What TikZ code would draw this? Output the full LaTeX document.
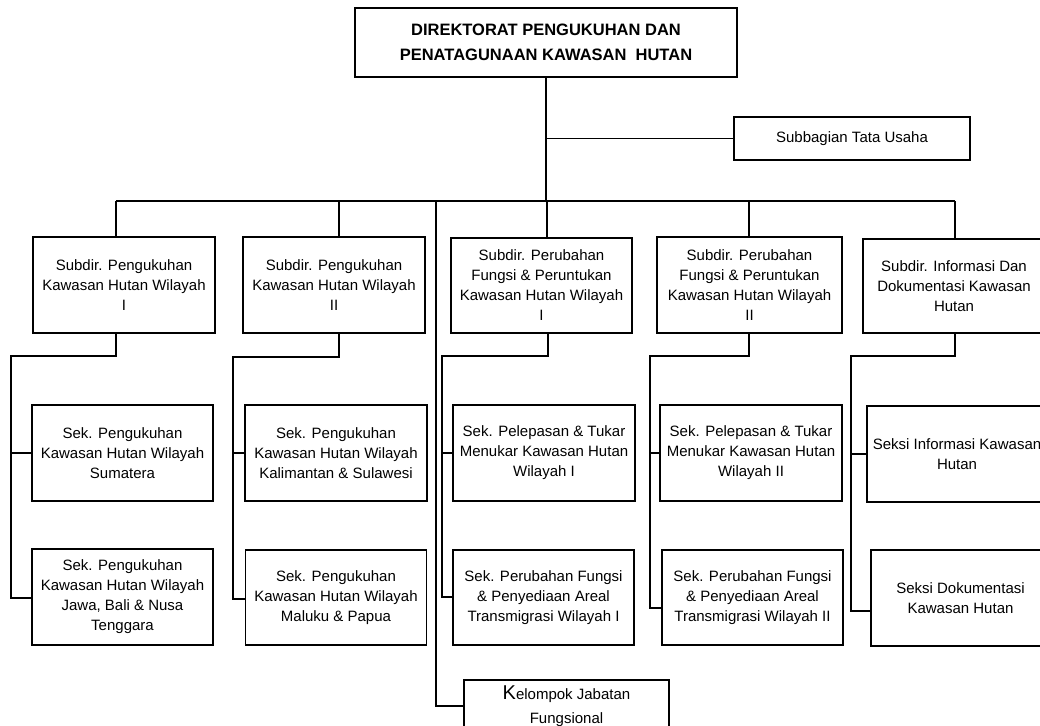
\documentclass[tikz,border=0pt]{standalone}
\usepackage{fontspec}
\setmainfont{Liberation Sans}
\usetikzlibrary{positioning}

\begin{document}
\begin{tikzpicture}[
  x=1pt, y=-1pt,
  every node/.style={font=\fontsize{15}{20}\selectfont},
  unit/.style={draw=black, line width=1.9pt, align=center, inner sep=2pt},
  sz/.style 2 args={minimum width=#1pt, minimum height=#2pt},
  ln/.style={line width=1.9pt, draw=black}
]
\useasboundingbox (0,0) rectangle (1040,725);

% Head of the directorate
\node[unit, sz={382}{69}, font=\bfseries\fontsize{16.5}{25}\selectfont] (dir) at (546,42.5)
  {DIREKTORAT PENGUKUHAN DAN\\PENATAGUNAAN KAWASAN\ \ HUTAN};
\node[unit, sz={236}{43}] (tu) at (852,138.5) {Subbagian Tata Usaha};

% Subdirectorates
\node[unit, sz={182}{96}] (sd1) at (124,285) {Subdir. Pengukuhan\\Kawasan Hutan Wilayah\\I};
\node[unit, sz={182}{96}] (sd2) at (334,285) {Subdir. Pengukuhan\\Kawasan Hutan Wilayah\\II};
\node[unit, sz={181}{95}] (sd3) at (541.5,285.5) {Subdir. Perubahan\\Fungsi \& Peruntukan\\Kawasan Hutan Wilayah\\I};
\node[unit, sz={185}{96}] (sd4) at (749.5,285) {Subdir. Perubahan\\Fungsi \& Peruntukan\\Kawasan Hutan Wilayah\\II};
\node[unit, sz={182}{94}] (sd5) at (954,286) {Subdir. Informasi Dan\\Dokumentasi Kawasan\\Hutan};

% Sections
\node[unit, sz={181}{96}] (s1a) at (122.5,453) {Sek. Pengukuhan\\Kawasan Hutan Wilayah\\Sumatera};
\node[unit, sz={181}{96}] (s1b) at (122.5,597) {Sek. Pengukuhan\\Kawasan Hutan Wilayah\\Jawa, Bali \& Nusa\\Tenggara};
\node[unit, sz={182}{96}] (s2a) at (336,453) {Sek. Pengukuhan\\Kawasan Hutan Wilayah\\Kalimantan \& Sulawesi};
\node[unit, sz={181}{95}] (s2b) at (336,597.5) {Sek. Pengukuhan\\Kawasan Hutan Wilayah\\Maluku \& Papua};
\node[unit, sz={182}{96}] (s3a) at (544,453) {Sek. Pelepasan \& Tukar\\Menukar Kawasan Hutan\\Wilayah I};
\node[unit, sz={181}{95}] (s3b) at (543.5,597.5) {Sek. Perubahan Fungsi\\\& Penyediaan Areal\\Transmigrasi Wilayah I};
\node[unit, sz={182}{96}] (s4a) at (751,453) {Sek. Pelepasan \& Tukar\\Menukar Kawasan Hutan\\Wilayah II};
\node[unit, sz={181}{95}] (s4b) at (752.5,597.5) {Sek. Perubahan Fungsi\\\& Penyediaan Areal\\Transmigrasi Wilayah II};
\node[unit, sz={180}{96}] (s5a) at (957,454) {Seksi Informasi Kawasan\\Hutan};
\node[unit, sz={179}{96}] (s5b) at (960.5,598) {Seksi Dokumentasi\\Kawasan Hutan};

% Functional group
\node[unit, sz={205}{52}, font=\fontsize{15}{24}\selectfont] (kel) at (566.5,706)
  {{\fontsize{20}{24}\selectfont K}elompok Jabatan\\Fungsional};

% Main bus
\coordinate (b1) at (116,201);
\coordinate (b2) at (339,201);
\coordinate (b3) at (547,201);
\coordinate (b4) at (749,201);
\coordinate (b5) at (955,201);
\coordinate (bk) at (436,201);
\draw[ln] (dir.south) -- (dir.south |- b3);
\draw[ln] (dir.south |- tu.west) -- (tu.west);
\draw[ln] (b1) -- (b5);
\draw[ln] (b1) -- (b1 |- sd1.north);
\draw[ln] (b2) -- (b2 |- sd2.north);
\draw[ln] (b3) -- (b3 |- sd3.north);
\draw[ln] (b4) -- (b4 |- sd4.north);
\draw[ln] (b5) -- (b5 |- sd5.north);
\draw[ln] (bk) |- (kel.west);

% Section branches
\coordinate (t1) at (116,356);  \coordinate (p1) at (11,356);  \coordinate (q1) at (11,598);
\coordinate (t2) at (339,357);  \coordinate (p2) at (233,357); \coordinate (q2) at (233,599);
\coordinate (t3) at (548,356);  \coordinate (p3) at (442,356); \coordinate (q3) at (442,597);
\coordinate (t4) at (749,356);  \coordinate (p4) at (650,356); \coordinate (q4) at (650,608);
\coordinate (t5) at (955,356);  \coordinate (p5) at (851,356); \coordinate (q5) at (851,611);

\draw[ln] (t1 |- sd1.south) -- (t1) -- (p1) -- (q1) -- (q1 -| s1b.west);
\draw[ln] (p1 |- s1a.west) -- (s1a.west);
\draw[ln] (t2 |- sd2.south) -- (t2) -- (p2) -- (q2) -- (q2 -| s2b.west);
\draw[ln] (p2 |- s2a.west) -- (s2a.west);
\draw[ln] (t3 |- sd3.south) -- (t3) -- (p3) -- (q3) -- (q3 -| s3b.west);
\draw[ln] (p3 |- s3a.west) -- (s3a.west);
\draw[ln] (t4 |- sd4.south) -- (t4) -- (p4) -- (q4) -- (q4 -| s4b.west);
\draw[ln] (p4 |- s4a.west) -- (s4a.west);
\draw[ln] (t5 |- sd5.south) -- (t5) -- (p5) -- (q5) -- (q5 -| s5b.west);
\draw[ln] (p5 |- s5a.west) -- (s5a.west);
\end{tikzpicture}
\end{document}
